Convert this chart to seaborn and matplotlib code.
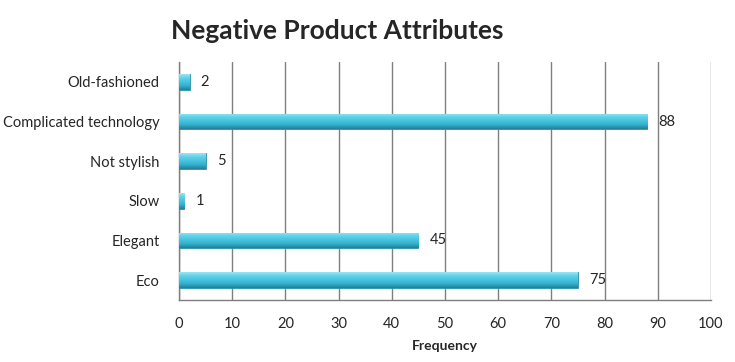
import matplotlib
matplotlib.use("Agg")
import matplotlib.pyplot as plt
import seaborn as sns
import numpy as np
import pandas as pd
from matplotlib.colors import LinearSegmentedColormap

categories = ["Old-fashioned", "Complicated technology", "Not stylish", "Slow", "Elegant", "Eco"]
values = [2, 88, 5, 1, 45, 75]
xticks = [0, 10, 20, 30, 40, 50, 60, 70, 80, 90, 100]

df = pd.DataFrame({"Attribute": categories, "Frequency": values})

sns.set_style("white")
plt.rcParams['font.family'] = ['Lato', 'DejaVu Sans']

fig = plt.figure(figsize=(7.35, 3.62), dpi=100)
ax = fig.add_axes([0.2435, 0.1713, 0.7238, 0.6574])

sns.barplot(data=df, x="Frequency", y="Attribute", orient="h", color="#3BB8D3",
            width=0.4, ax=ax, zorder=3)

cmap = LinearSegmentedColormap.from_list("cyl", ["#9AE6F4", "#5FD0E8", "#45C3DE", "#32AECB", "#247F96"])
grad = np.linspace(0, 1, 64).reshape(-1, 1)
for p in ax.patches:
    x0, y0 = p.get_x(), p.get_y()
    w, h = p.get_width(), p.get_height()
    p.set_edgecolor("#2A8FA8")
    p.set_linewidth(0.6)
    im = ax.imshow(grad, cmap=cmap, aspect="auto", extent=[x0, x0 + w, y0 + h, y0],
                   zorder=3.5, interpolation="bilinear")
    im.set_clip_path(p)

ax.set_xlim(0, 100)
ax.set_ylim(len(categories) - 0.5, -0.5)
ax.set_xticks(xticks)
ax.set_xticklabels([str(t) for t in xticks], fontsize=10.5)
ax.tick_params(axis="x", length=0, pad=12)
ax.tick_params(axis="y", length=0, pad=14, labelsize=10.5)
ax.xaxis.grid(True, color="#7F7F7F", linewidth=1)
ax.yaxis.grid(False)
ax.set_axisbelow(True)

ax.spines["top"].set_visible(False)
ax.spines["right"].set_visible(False)
for s in ["left", "bottom"]:
    ax.spines[s].set_color("#7F7F7F")
    ax.spines[s].set_linewidth(1)

ax.bar_label(ax.containers[0], labels=[str(v) for v in values], padding=8, fontsize=10.5)

ax.set_ylabel("")
ax.set_xlabel("Frequency", fontsize=10, fontweight="bold", labelpad=7)

fig.text(0.459, 0.915, "Negative Product Attributes", ha="center", va="center",
         fontsize=19, fontweight="bold")

fig.savefig("out.png", dpi=100, facecolor="white")
